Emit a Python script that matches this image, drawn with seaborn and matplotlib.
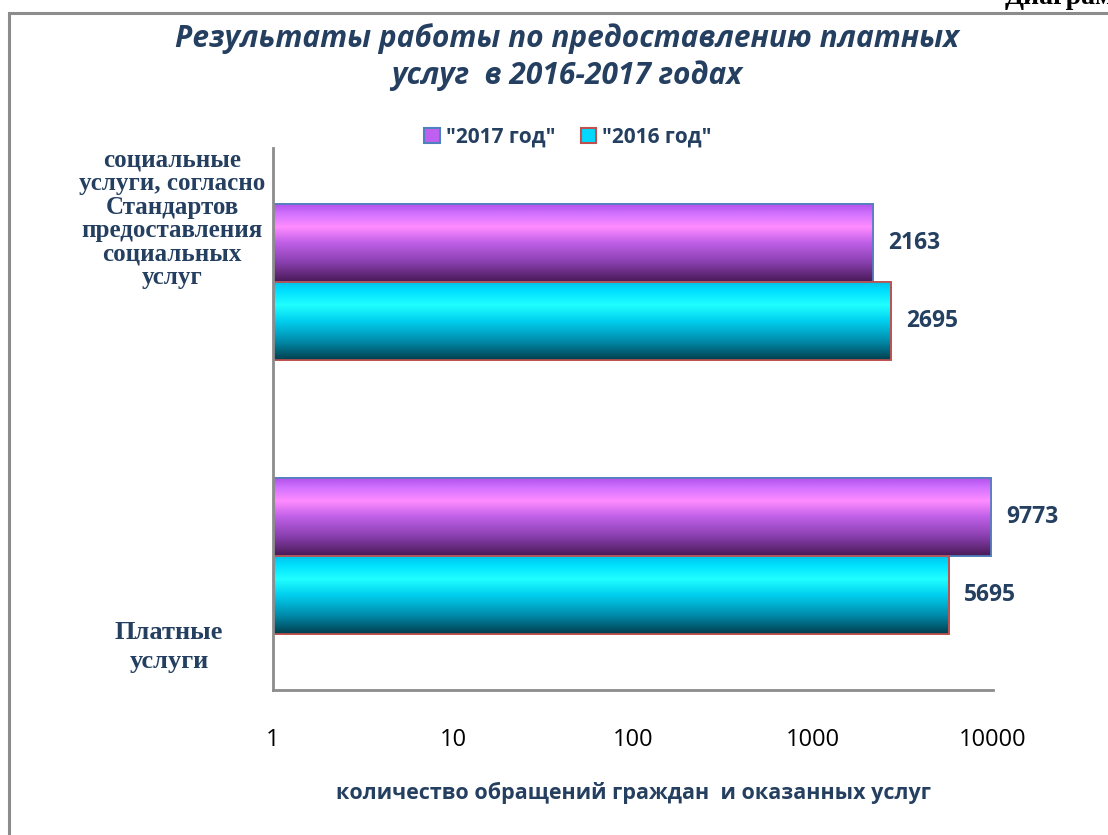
import numpy as np
import pandas as pd
import matplotlib
matplotlib.use("Agg")
import matplotlib.pyplot as plt
import matplotlib.transforms as mtransforms
from matplotlib.colors import LinearSegmentedColormap
from matplotlib.patches import Patch, Rectangle
import seaborn as sns

# ---- data ----
categories = ["социальные\nуслуги, согласно\nСтандартов\nпредоставления\nсоциальных\nуслуг",
              "Платные\nуслуги"]
series_names = ['"2017 год"', '"2016 год"']
values_2017 = [2163, 9773]
values_2016 = [2695, 5695]
x_ticks = [1, 10, 100, 1000, 10000]
x_tick_labels = ["1", "10", "100", "1000", "10000"]
title = "Результаты работы по предоставлению платных\nуслуг  в 2016-2017 годах"
x_label = "количество обращений граждан  и оказанных услуг"
corner_text = "Диаграмма"

df = pd.DataFrame({
    "cat": categories * 2,
    "series": [series_names[0]] * 2 + [series_names[1]] * 2,
    "value": values_2017 + values_2016,
})

NAVY = "#243F60"
sns.set_theme(style="white")
plt.rcParams["font.family"] = ["Open Sans", "DejaVu Sans"]

fig = plt.figure(figsize=(11.08, 8.35), dpi=100)
W, H = 1108, 835
ax = fig.add_axes([273 / W, (H - 690) / H, 720 / W, 542 / H])

face = {series_names[0]: "#c060f0", series_names[1]: "#00d8ff"}
edge = {series_names[0]: "#4f81bd", series_names[1]: "#c0504d"}

sns.barplot(data=df, y="cat", x="value", hue="series", hue_order=series_names,
            order=categories, orient="h", width=0.57, gap=0,
            palette=face, legend=False, ax=ax, saturation=1)

# bars start at the log axis origin (1) instead of 0
for cont in ax.containers:
    for p in cont:
        w = p.get_width()
        p.set_x(1)
        p.set_width(w - 1)

ax.set_xscale("log")
ax.set_xlim(1, 10000)
ax.set_ylim(1.49, -0.49)

# gradient colormaps (top -> bottom)
cm_purple = LinearSegmentedColormap.from_list("p", [
    (0.0, "#b050e8"), (0.12, "#d070ff"), (0.30, "#ff8cff"),
    (0.50, "#c060e8"), (0.75, "#8a40b0"), (1.0, "#4a1a58")])
cm_cyan = LinearSegmentedColormap.from_list("c", [
    (0.0, "#00c0e8"), (0.12, "#00e0ff"), (0.30, "#20ffff"),
    (0.50, "#00d0f0"), (0.75, "#0090b0"), (1.0, "#00404f")])
cmaps = [cm_purple, cm_cyan]
grad = np.linspace(0, 1, 256).reshape(-1, 1)
blend = mtransforms.blended_transform_factory(ax.transAxes, ax.transData)

for i, cont in enumerate(ax.containers):
    s = series_names[i]
    for p in cont:
        p.set_edgecolor(edge[s])
        p.set_linewidth(1.2)
        y0 = p.get_y()
        y1 = y0 + p.get_height()
        im = ax.imshow(grad, cmap=cmaps[i], aspect="auto", origin="upper",
                       extent=(0, 1, y1, y0), transform=blend, zorder=p.get_zorder() + 0.1,
                       interpolation="bilinear")
        im.set_clip_path(p)
        r = Rectangle((p.get_x(), y0), p.get_width(), p.get_height(), fill=False,
                      edgecolor=edge[s], linewidth=1.2, zorder=p.get_zorder() + 0.2,
                      transform=ax.transData)
        ax.add_patch(r)
    ax.bar_label(cont, fmt="%d", padding=11, fontsize=16.5, fontweight="bold", color=NAVY)

ax.set_xlim(1, 10000)
ax.set_ylim(1.49, -0.49)

ax.set_xticks(x_ticks)
ax.set_xticklabels(x_tick_labels, fontsize=17, color="#000000")
ax.xaxis.set_minor_locator(matplotlib.ticker.NullLocator())
ax.tick_params(axis="x", length=0, pad=27.5)
ax.set_yticks([])
ax.set_ylabel("")
ax.set_xlabel(x_label, fontsize=15.5, fontweight="bold", color=NAVY, labelpad=21)

for sp in ["top", "right"]:
    ax.spines[sp].set_visible(False)
for sp in ["left", "bottom"]:
    ax.spines[sp].set_color("#8c8c8c")
    ax.spines[sp].set_linewidth(2)

# category labels (serif bold)
fig.text(172 / W, 1 - 219 / H, categories[0], ha="center", va="center",
         fontsize=18, fontweight="bold", color=NAVY, family="Liberation Serif",
         linespacing=1.03)
fig.text(169 / W, 1 - 647 / H, categories[1], ha="center", va="center",
         fontsize=19, fontweight="bold", color=NAVY, family="Liberation Serif",
         linespacing=1.3)

# title
fig.text(567 / W, 1 - 57 / H, title, ha="center", va="center", fontsize=21.5,
         fontweight="bold", fontstyle="italic", color=NAVY, linespacing=1.3)

# legend
handles = [Patch(facecolor=face[s], edgecolor=edge[s], linewidth=1.5) for s in series_names]
fig.legend(handles, series_names, loc="center", bbox_to_anchor=(568 / W, 1 - 137 / H),
           ncol=2, frameon=False, handlelength=0.75, handleheight=0.75,
           handletextpad=0.3, columnspacing=1.2,
           prop={"size": 15, "weight": "bold"}, labelcolor=NAVY)

# outer frame
fig.patches.append(Rectangle((9 / W, -0.1), 1.2, (H - 13) / H + 0.1, fill=False,
                             edgecolor="#8c8c8c", linewidth=2.2,
                             transform=fig.transFigure, figure=fig))

# cut-off corner text (only its lower part shows, as in the reference)
fig.text(1005 / W, 1 - 4 / H, corner_text, ha="left", va="baseline", fontsize=20,
         fontweight="bold", family="Liberation Serif", color="black")

fig.savefig("out.png", dpi=100)
